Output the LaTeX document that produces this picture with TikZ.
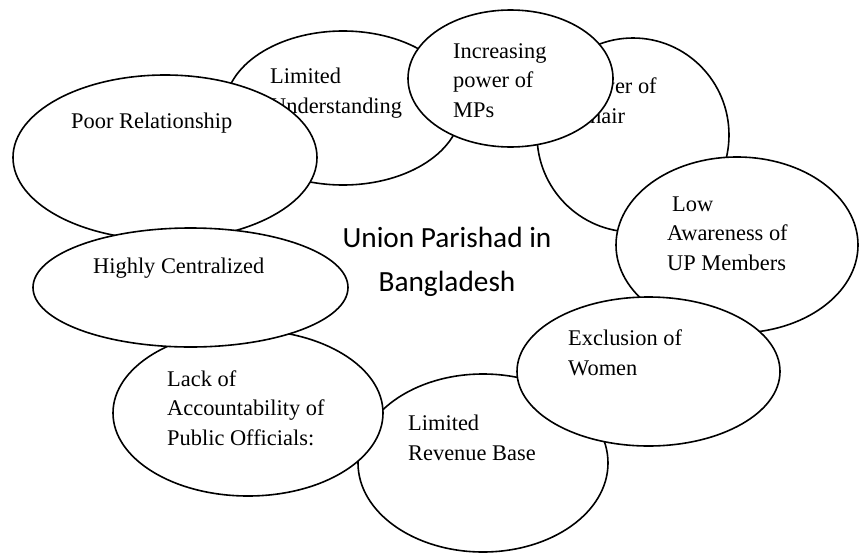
\documentclass[tikz,border=0pt]{standalone}
\usepackage{fontspec}
\setmainfont{Liberation Serif}
\newfontfamily\hubfont{Carlito}
\usepackage{tikz}
\usetikzlibrary{shapes.geometric}
\tikzstyle{bubble} = [
    ellipse,
    draw=black,
    fill=white,
    line width=1.6pt,
    inner sep=0pt
]
% anchored at the baseline of the last line
\tikzstyle{bubbletext} = [
    anchor=base west,
    align=left,
    inner sep=0pt,
    font=\fontsize{22.4}{29.5}\selectfont
]
\tikzstyle{hub} = [
    anchor=base,
    align=center,
    inner sep=0pt,
    font=\hubfont\fontsize{29.3}{44}\selectfont
]

\begin{document}
\begin{tikzpicture}[x=1pt, y=-1pt]
    \useasboundingbox (0,0) rectangle (859,554);

    % ring of problems, drawn back to front
    \node[bubble, minimum width=236pt, minimum height=154pt] (und) at (343,108) {};
    \node[bubbletext] (undtxt) at (270,113) {Limited\\Understanding};

    \node[bubble, minimum width=304pt, minimum height=165pt] (poor) at (165,157.5) {};
    \node[bubbletext] (poortxt) at (71,128) {Poor Relationship};

    \node[bubble, minimum width=192pt, minimum height=194pt] (chair) at (633,135) {};
    \node[bubbletext] (chairtxt) at (575,123) {Power of\\Chair};

    \node[bubble, minimum width=242pt, minimum height=176pt] (low) at (737,245) {};
    \node[bubbletext] (lowtxt) at (667,270) {\hspace*{5pt}Low\\Awareness of\\UP Members};

    \node[bubble, minimum width=250pt, minimum height=178pt] (rev) at (483,463) {};
    \node[bubbletext] (revtxt) at (408,460) {Limited\\Revenue Base};

    \node[bubble, minimum width=270pt, minimum height=166pt] (lack) at (248,413) {};
    \node[bubbletext] (lacktxt) at (167,445) {Lack of\\Accountability of\\Public Officials:};

    \node[bubble, minimum width=315pt, minimum height=119pt] (cent) at (190.5,287.5) {};
    \node[bubbletext] (centtxt) at (93,273) {Highly Centralized};

    \node[bubble, minimum width=263pt, minimum height=149pt] (excl) at (648.5,371.5) {};
    \node[bubbletext] (excltxt) at (568,375) {Exclusion of\\Women};

    \node[bubble, minimum width=205pt, minimum height=137pt] (mps) at (510.5,78.5) {};
    \node[bubbletext] (mpstxt) at (453,117) {Increasing\\power of\\MPs};

    % centre
    \node[hub] (up) at (447,291) {Union Parishad in\\Bangladesh};
\end{tikzpicture}
\end{document}
